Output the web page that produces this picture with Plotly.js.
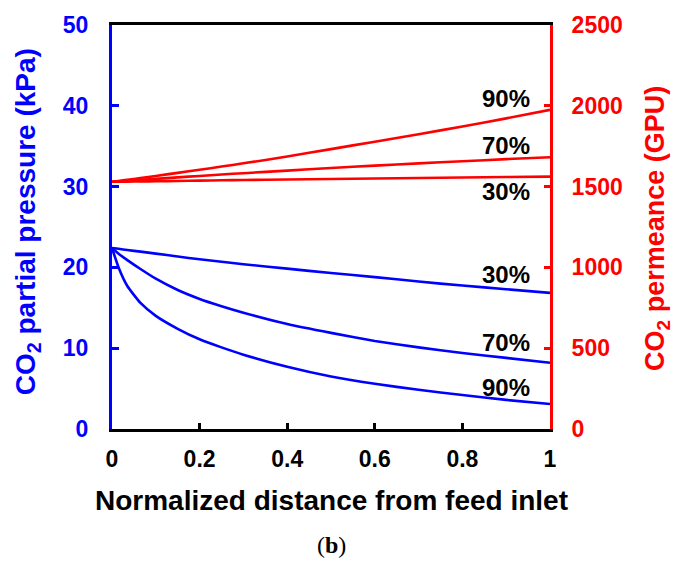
<!DOCTYPE html>
<html>
<head>
<meta charset="utf-8">
<script src="https://cdn.plot.ly/plotly-3.0.1.min.js"></script>
<style>html,body{margin:0;padding:0;background:#fff;}#chart{width:673px;height:562px;}</style>
</head>
<body>
<div id="chart"></div>
<script>
// Normalized distance from feed inlet
const xDist = [0, 0.015, 0.035, 0.065, 0.1, 0.15, 0.2, 0.25, 0.3, 0.4, 0.5, 0.6, 0.7, 0.8, 0.9, 1.0];

// CO2 partial pressure (kPa) for feed CO2 removal 30%, 70%, 90%
const pres30 = [22.4, 22.3, 22.15, 21.95, 21.7, 21.35, 21.0, 20.7, 20.4, 19.85, 19.3, 18.8, 18.25, 17.75, 17.3, 16.85];
const pres70 = [22.4, 21.7, 20.9, 19.8, 18.6, 17.2, 16.1, 15.2, 14.4, 13.0, 11.9, 10.9, 10.1, 9.4, 8.8, 8.2];
const pres90 = [22.4, 20.0, 17.7, 15.6, 14.0, 12.4, 11.1, 10.1, 9.2, 7.7, 6.5, 5.6, 4.85, 4.2, 3.6, 3.1];

// CO2 permeance (GPU)
const perm30 = [1530, 1530.5, 1531, 1532, 1533, 1535, 1537, 1539, 1541, 1544, 1547, 1550, 1553, 1556, 1559, 1562];
const perm70 = [1530, 1533, 1536, 1542, 1548, 1557, 1566, 1575, 1583, 1599, 1615, 1630, 1644, 1657, 1670, 1682];
const perm90 = [1530, 1535, 1542, 1553, 1566, 1585, 1604, 1624, 1644, 1686, 1732, 1778, 1824, 1872, 1922, 1975];

const removalLabels = ["30%", "70%", "90%"];

const BLUE = "#0000FF", RED = "#FF0000";
const FONT = "Liberation Sans, Arial, sans-serif";

function tr(y, color, axis, name) {
  return {x: xDist, y: y, type: "scatter", mode: "lines", name: name, yaxis: axis,
          line: {color: color, width: 2.6, shape: "spline", smoothing: 0.5}, showlegend: false, hoverinfo: "x+y"};
}

const data = [
  tr(pres30, BLUE, "y", "pressure 30%"),
  tr(pres70, BLUE, "y", "pressure 70%"),
  tr(pres90, BLUE, "y", "pressure 90%"),
  tr(perm30, RED, "y2", "permeance 30%"),
  tr(perm70, RED, "y2", "permeance 70%"),
  tr(perm90, RED, "y2", "permeance 90%")
];

function pctLabel(text, yval, axis, yshift) {
  return {x: 0.959, xref: "x", y: yval, yref: axis, text: "<b>" + text + "</b>", showarrow: false,
          xanchor: "right", yanchor: "middle", yshift: yshift, font: {family: FONT, size: 24, color: "#000"}};
}

const layout = {
  width: 673, height: 562,
  margin: {l: 112, r: 123, t: 25, b: 133},
  paper_bgcolor: "#fff", plot_bgcolor: "#fff",
  showlegend: false,
  xaxis: {
    range: [0, 1], dtick: 0.2, tick0: 0, showgrid: false, zeroline: false,
    showline: true, linecolor: "#000", linewidth: 3, mirror: true,
    ticks: "inside", ticklen: 6, tickwidth: 3, tickcolor: "#000",
    ticklabelstandoff: 7,
    tickfont: {family: FONT, size: 23, color: "#000", weight: "bold"}
  },
  yaxis: {
    range: [0, 50], dtick: 10, showgrid: false, zeroline: false,
    showline: true, linecolor: BLUE, linewidth: 3,
    ticks: "inside", ticklen: 7, tickwidth: 3, tickcolor: BLUE,
    ticklabelstandoff: 16,
    tickfont: {family: FONT, size: 23, color: BLUE, weight: "bold"}
  },
  yaxis2: {
    range: [0, 2500], dtick: 500, overlaying: "y", side: "right", showgrid: false, zeroline: false,
    showline: true, linecolor: RED, linewidth: 3,
    ticks: "inside", ticklen: 6, tickwidth: 3, tickcolor: RED,
    ticklabelstandoff: 14,
    tickfont: {family: FONT, size: 23, color: RED, weight: "bold"}
  },
  annotations: [
    {xref: "paper", yref: "paper", x: 0.5, y: -0.178, text: "<b>Normalized distance from feed inlet</b>",
     showarrow: false, xanchor: "center", yanchor: "middle", font: {family: FONT, size: 28, color: "#000"}},
    {xref: "paper", yref: "paper", x: -0.194, y: 0.512, text: "<b>CO<sub>2</sub> partial pressure (kPa)</b>",
     textangle: -90, showarrow: false, xanchor: "center", yanchor: "middle", font: {family: FONT, size: 28, color: BLUE}},
    {xref: "paper", yref: "paper", x: 1.244, y: 0.4975, text: "<b>CO<sub>2</sub> permeance (GPU)</b>",
     textangle: -90, showarrow: false, xanchor: "center", yanchor: "middle", font: {family: FONT, size: 27, color: RED}},
    {xref: "paper", yref: "paper", x: 0.5, y: -0.287, text: "(<b>b</b>)",
     showarrow: false, xanchor: "center", yanchor: "middle", font: {family: "Liberation Serif, Times New Roman, serif", size: 24, color: "#000"}},
    pctLabel(removalLabels[2], perm90[perm90.length - 1], "y2", 11),
    pctLabel(removalLabels[1], perm70[perm70.length - 1], "y2", 12),
    pctLabel(removalLabels[0], perm30[perm30.length - 1], "y2", -15),
    pctLabel(removalLabels[0], pres30[pres30.length - 1], "y", 18),
    pctLabel(removalLabels[1], pres70[pres70.length - 1], "y", 20),
    pctLabel(removalLabels[2], pres90[pres90.length - 1], "y", 16)
  ]
};

Plotly.newPlot("chart", data, layout, {staticPlot: true, displayModeBar: false});
</script>
</body>
</html>
